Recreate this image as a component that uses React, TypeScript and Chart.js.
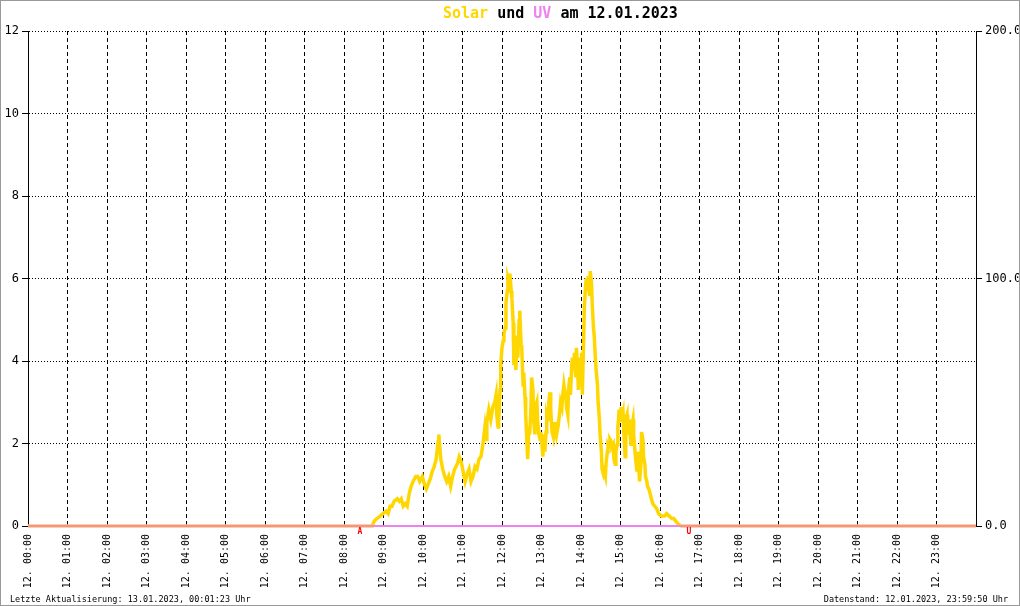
import React, { useEffect, useRef } from "react";
import { Chart, registerables } from "chart.js";

Chart.register(...registerables);

const hourLabels = ["00","01","02","03","04","05","06","07","08","09","10","11","12","13","14","15","16","17","18","19","20","21","22","23"];
const leftTickValues = [0, 2, 4, 6, 8, 10, 12];
const rightTickValues = [0, 100, 200];
const sunriseTime = "08:24";
const sunsetTime = "16:44";

const solarTimes = [
  "00:00","08:43","08:46","08:50","08:55","08:59","09:04","09:07","09:10","09:13","09:16","09:21","09:24","09:27","09:30","09:33","09:36","09:39","09:42","09:45","09:49","09:52","09:55","09:59",
  "10:02","10:05","10:08","10:11","10:14","10:17","10:20","10:23","10:24","10:27","10:30","10:33","10:36","10:39","10:42","10:45","10:48","10:52","10:55","10:58",
  "11:01","11:04","11:07","11:10","11:13","11:16","11:19","11:22","11:25","11:28","11:31","11:34","11:36","11:37","11:40","11:43","11:46","11:49","11:51","11:52","11:54","11:55","11:57","11:58",
  "12:00","12:02","12:03","12:05","12:06","12:08","12:09","12:11","12:12","12:14","12:15","12:17","12:18","12:20","12:21","12:23","12:24","12:26","12:27","12:29","12:30","12:32","12:33","12:35","12:36","12:38","12:39","12:41","12:42","12:44","12:45","12:47","12:48","12:50","12:51","12:53","12:54","12:56","12:58","12:59",
  "13:01","13:02","13:04","13:05","13:07","13:08","13:10","13:11","13:13","13:14","13:16","13:17","13:19","13:20","13:22","13:23","13:25","13:26","13:28","13:29","13:31","13:32","13:34","13:35","13:37","13:38","13:40","13:41","13:43","13:44","13:46","13:47","13:49","13:50","13:52","13:53","13:55","13:56","13:58","13:59",
  "14:01","14:02","14:04","14:05","14:07","14:08","14:10","14:11","14:13","14:14","14:16","14:17","14:19","14:20","14:22","14:23","14:25","14:26","14:28","14:29","14:31","14:32","14:34","14:35","14:37","14:38","14:40","14:41","14:43","14:44","14:46","14:47","14:49","14:50","14:52","14:53","14:55","14:56","14:58","14:59",
  "15:01","15:02","15:04","15:05","15:07","15:08","15:10","15:11","15:13","15:14","15:16","15:17","15:19","15:20","15:22","15:23","15:25","15:26","15:28","15:29","15:31","15:32","15:34","15:35","15:37","15:38","15:40","15:41","15:43","15:46","15:49","15:52","15:55","15:58",
  "16:02","16:07","16:10","16:14","16:18","16:21","16:24","16:27","16:30","16:32","24:00"
];

const solarValues = [
  0,0,2,3,4,5,6,5,8,8,10,11,10,11,8,9,8,13,16,18,20,20,18,20,
  17,15,17,19,22,24,27,34,37,27,23,20,18,20,16,20,23,25,28,26,
  22,18,21,23,18,20,24,23,27,28,33,40,35,42,47,43,48,50,53,45,40,42,55,65,
  72,75,78,80,90,95,100,98,102,95,92,82,65,77,63,75,68,83,87,73,72,57,62,52,45,33,27,40,37,48,60,55,43,37,48,50,43,37,35,38,
  32,28,37,30,38,45,43,50,54,47,38,37,42,37,39,37,40,42,47,50,48,52,57,55,52,48,45,55,60,53,65,68,63,70,60,72,63,55,68,58,
  70,53,75,88,97,100,95,101,93,103,98,90,80,77,67,63,57,50,43,37,30,23,21,22,20,25,30,33,32,35,34,32,33,27,25,30,33,40,47,43,
  48,42,45,38,28,43,45,37,43,38,33,40,43,37,30,27,22,30,23,18,25,38,35,28,25,20,18,16,15,12,9,8,7,5,
  4,4,5,4,3,3,2,1,0.3,0,0
];

const uvTimes = ["00:00", "24:00"];
const uvValues = [0, 0];

const toHours = (t: string) => {
  const [h, m] = t.split(":").map(Number);
  return h + m / 60;
};

const MONO = "'DejaVu Sans Mono', 'Liberation Mono', monospace";

const markerPlugin = {
  id: "sunMarkers",
  afterDatasetsDraw(chart: any) {
    const { ctx, chartArea, scales } = chart;
    const xs = scales.x;
    ctx.save();
    ctx.fillStyle = "#ff0000";
    ctx.font = `bold 8px ${MONO}`;
    ctx.textAlign = "center";
    ctx.textBaseline = "middle";
    ctx.fillText("A", xs.getPixelForValue(toHours(sunriseTime)), chartArea.bottom + 6);
    ctx.fillText("U", xs.getPixelForValue(toHours(sunsetTime)), chartArea.bottom + 6);
    ctx.restore();
  },
};

export default function App() {
  const canvasRef = useRef<HTMLCanvasElement | null>(null);

  useEffect(() => {
    document.body.style.margin = "0";
    const canvas = canvasRef.current;
    if (!canvas) return;
    const solarData = solarTimes.map((t, i) => ({ x: toHours(t), y: solarValues[i] }));
    const uvData = uvTimes.map((t, i) => ({ x: toHours(t), y: uvValues[i] }));

    const chart = new Chart(canvas, {
      type: "line",
      data: {
        datasets: [
          {
            label: "Solar",
            data: solarData,
            yAxisID: "y1",
            borderColor: "#FFD700",
            borderWidth: 3.5,
            pointRadius: 0,
            tension: 0,
            order: 5,
            clip: 4,
          },
          {
            label: "UV",
            data: uvData,
            yAxisID: "y",
            borderColor: "#EE82EE",
            borderWidth: 2,
            pointRadius: 0,
            order: -1,
            clip: 4,
          },
        ],
      },
      plugins: [markerPlugin],
      options: {
        animation: false,
        responsive: false,
        events: [],
        layout: { padding: { top: 31, left: 0, right: 0, bottom: 0 } },
        plugins: {
          legend: { display: false },
          tooltip: { enabled: false },
          title: { display: false },
        },
        scales: {
          x: {
            type: "linear",
            min: 0,
            max: 24,
            afterFit: (s: any) => { s.height = 80; },
            afterBuildTicks: (s: any) => {
              s.ticks = Array.from({ length: 25 }, (_, i) => ({ value: i }));
            },
            ticks: {
              autoSkip: false,
              maxRotation: 90,
              minRotation: 90,
              padding: 8,
              color: "#000",
              font: { family: MONO, size: 10 },
              callback: (v: any) => (v < 24 ? `12. ${hourLabels[v]}:00` : ""),
            },
            grid: { color: "#000", lineWidth: 1, drawTicks: false },
            border: { display: false, dash: [4, 3] },
          },
          y: {
            position: "left",
            min: 0,
            max: 12,
            afterFit: (s: any) => { s.width = 28; },
            afterBuildTicks: (s: any) => {
              s.ticks = leftTickValues.map((v) => ({ value: v }));
            },
            ticks: {
              color: "#000",
              padding: 3,
              font: { family: MONO, size: 12 },
            },
            grid: { color: "#000", lineWidth: 1, tickLength: 6, tickColor: "#000" },
            border: { display: true, color: "#000", width: 1, dash: [1, 2] },
          },
          y1: {
            position: "right",
            min: 0,
            max: 200,
            afterFit: (s: any) => { s.width = 44; },
            afterBuildTicks: (s: any) => {
              s.ticks = rightTickValues.map((v) => ({ value: v }));
            },
            ticks: {
              color: "#000",
              padding: 3,
              font: { family: MONO, size: 12 },
              callback: (v: any) => Number(v).toFixed(1),
            },
            grid: { drawOnChartArea: false, color: "#000", tickLength: 6, tickColor: "#000" },
            border: { display: true, color: "#000", width: 1 },
          },
        },
      },
    } as any);

    return () => chart.destroy();
  }, []);

  return (
    <div style={{ position: "fixed", left: 0, top: 0, width: 1020, height: 606, background: "#fff", overflow: "hidden" }}>
      <canvas ref={canvasRef} width={1020} height={606} style={{ position: "absolute", left: 0, top: 0, width: 1020, height: 606 }} />
      <div
        style={{
          position: "absolute",
          left: 443,
          top: 4,
          fontFamily: MONO,
          fontSize: 15,
          fontWeight: "bold",
          whiteSpace: "pre",
          color: "#000",
          lineHeight: "18px",
        }}
      >
        <span style={{ color: "#FFD700" }}>Solar</span> und <span style={{ color: "#EE82EE" }}>UV</span> am 12.01.2023
      </div>
      <div
        style={{
          position: "absolute",
          left: 10,
          top: 594,
          fontFamily: MONO,
          fontSize: 8.5,
          whiteSpace: "pre",
          color: "#000",
          lineHeight: "10px",
        }}
      >
        Letzte Aktualisierung: 13.01.2023, 00:01:23 Uhr
      </div>
      <div
        style={{
          position: "absolute",
          right: 12,
          top: 594,
          fontFamily: MONO,
          fontSize: 8.5,
          whiteSpace: "pre",
          color: "#000",
          lineHeight: "10px",
        }}
      >
        Datenstand: 12.01.2023, 23:59:50 Uhr
      </div>
      <div
        style={{
          position: "absolute",
          left: 0,
          top: 0,
          width: 1020,
          height: 606,
          boxSizing: "border-box",
          border: "1px solid #999",
          pointerEvents: "none",
        }}
      />
    </div>
  );
}
